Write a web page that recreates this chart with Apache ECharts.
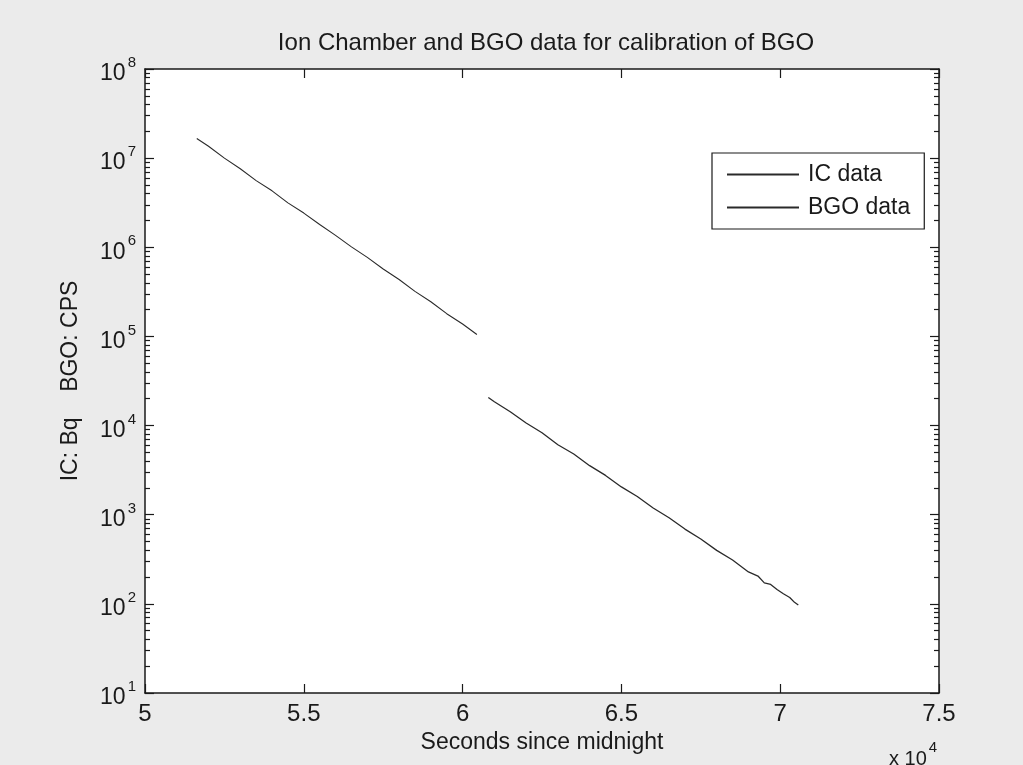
<!DOCTYPE html>
<html>
<head>
<meta charset="utf-8">
<script src="https://cdn.jsdelivr.net/npm/echarts@6/dist/echarts.min.js"></script>
<style>
  html, body { margin: 0; padding: 0; background: #ebebeb; }
  #main { width: 1023px; height: 765px; }
</style>
</head>
<body>
<div id="main"></div>
<script>
  // seconds since midnight
  const icTime = [51630, 52000, 52500, 53000, 53500, 54000, 54500, 55000, 55500, 56000,
    56500, 57000, 57500, 58000, 58500, 59000, 59500, 60000, 60450];
  const icValue = [1.66e7, 1.36e7, 1.0e7, 7.6e6, 5.6e6, 4.3e6, 3.15e6, 2.42e6, 1.8e6, 1.36e6,
    1.01e6, 7.7e5, 5.7e5, 4.35e5, 3.2e5, 2.45e5, 1.8e5, 1.38e5, 1.05e5];

  const bgoTime = [60810, 61000, 61500, 62000, 62500, 63000, 63500, 64000, 64500, 65000,
    65500, 66000, 66500, 67000, 67500, 68000, 68500, 69000, 69300, 69500, 69700, 69900,
    70100, 70300, 70450, 70570];
  const bgoValue = [2.07e4, 1.85e4, 1.43e4, 1.07e4, 8.3e3, 6.1e3, 4.8e3, 3.55e3, 2.76e3, 2.05e3,
    1.6e3, 1.19e3, 925, 690, 535, 398, 310, 228, 205, 172, 165, 145, 130, 118, 104, 97];

  const xTicks = [50000, 55000, 60000, 65000, 70000, 75000];
  const yMajor = [1e1, 1e2, 1e3, 1e4, 1e5, 1e6, 1e7, 1e8];
  const yMinor = [];
  yMajor.slice(0, -1).forEach(d => {
    for (let k = 2; k <= 9; k++) yMinor.push(d * k);
  });

  const font = 'Liberation Sans, Arial, sans-serif';
  const ink = '#1a1a1a';

  const chart = echarts.init(document.getElementById('main'));

  const pair = (a, b) => a.map((v, i) => [v, b[i]]);

  const baseLog = {
    type: 'log',
    logBase: 10,
    min: 10,
    max: 1e8,
    splitLine: { show: false },
    axisLine: { show: true, lineStyle: { color: ink, width: 1.5 } },
    axisLabel: { show: false },
  };

  const minorLog = Object.assign({}, baseLog, {
    axisLine: { show: false },
    axisTick: { show: true, inside: true, length: 5, customValues: yMinor,
      lineStyle: { color: ink, width: 1.2 } },
  });

  const option = {
    backgroundColor: '#ebebeb',
    animation: false,
    title: [
      {
        text: 'Ion Chamber and BGO data for calibration of BGO',
        left: 541, top: 26, textAlign: 'center',
        textStyle: { fontFamily: font, fontSize: 24, fontWeight: 'normal', color: ink },
      },
      {
        text: '{a|x 10}{b|4}',
        left: 884, top: 732,
        textStyle: {
          fontWeight: 'normal',
          rich: {
            a: { fontFamily: font, fontSize: 20, fontWeight: 'normal', color: ink, padding: [12, 0, 0, 0] },
            b: { fontFamily: font, fontSize: 15, fontWeight: 'normal', color: ink, padding: [0, 0, 10, 2] },
          },
        },
      },
    ],
    legend: {
      orient: 'vertical',
      left: 712, top: 153,
      padding: [10, 14, 10, 14],
      itemGap: 10,
      itemWidth: 72,
      itemHeight: 14,
      backgroundColor: '#fff',
      borderColor: ink,
      borderWidth: 1.2,
      borderRadius: 0,
      itemStyle: { opacity: 0 },
      textStyle: { fontFamily: font, fontSize: 23, color: ink, padding: [0, 0, 0, 4] },
      data: ['IC data', 'BGO data'],
    },
    grid: {
      left: 145, right: 84, top: 69, bottom: 72,
      show: true, backgroundColor: '#fff', borderWidth: 0,
    },
    xAxis: [
      {
        type: 'value', position: 'bottom',
        min: 50000, max: 75000, interval: 5000,
        name: 'Seconds since midnight', nameLocation: 'middle', nameGap: 38,
        nameTextStyle: { fontFamily: font, fontSize: 23, color: ink },
        splitLine: { show: false },
        axisLine: { onZero: false, lineStyle: { color: ink, width: 1.5 } },
        axisTick: { inside: true, length: 9, customValues: xTicks, lineStyle: { color: ink, width: 1.2 } },
        axisLabel: {
          customValues: xTicks,
          margin: 9,
          fontFamily: font, fontSize: 24, color: ink,
          formatter: v => String(v / 10000),
        },
      },
      {
        type: 'value', position: 'top',
        min: 50000, max: 75000, interval: 5000,
        splitLine: { show: false },
        axisLine: { onZero: false, lineStyle: { color: ink, width: 1.5 } },
        axisTick: { inside: true, length: 9, customValues: xTicks, lineStyle: { color: ink, width: 1.2 } },
        axisLabel: { show: false },
      },
    ],
    yAxis: [
      Object.assign({}, baseLog, {
        position: 'left',
        name: 'IC: Bq    BGO: CPS', nameLocation: 'middle', nameGap: 63, nameRotate: 90,
        nameTextStyle: { fontFamily: font, fontSize: 23, color: ink },
        axisTick: { show: true, inside: true, length: 9, customValues: yMajor,
          lineStyle: { color: ink, width: 1.2 } },
        axisLabel: {
          show: true,
          customValues: yMajor,
          margin: 9,
          formatter: v => '{b|10}{s|' + Math.round(Math.log10(v)) + '}',
          rich: {
            b: { fontFamily: font, fontSize: 23, color: ink, padding: [10, 0, 0, 0] },
            s: { fontFamily: font, fontSize: 15, color: ink, padding: [0, 0, 12, 2] },
          },
        },
      }),
      Object.assign({}, baseLog, {
        position: 'right',
        axisTick: { show: true, inside: true, length: 9, customValues: yMajor,
          lineStyle: { color: ink, width: 1.2 } },
      }),
      Object.assign({}, minorLog, { position: 'left' }),
      Object.assign({}, minorLog, { position: 'right' }),
    ],
    series: [
      {
        name: 'IC data', type: 'line', xAxisIndex: 0, yAxisIndex: 0,
        symbol: 'none', data: pair(icTime, icValue),
        lineStyle: { color: '#2a2a2a', width: 1.1 }, itemStyle: { color: '#2a2a2a' },
      },
      {
        name: 'BGO data', type: 'line', xAxisIndex: 0, yAxisIndex: 0,
        symbol: 'none', data: pair(bgoTime, bgoValue),
        lineStyle: { color: '#2a2a2a', width: 1.3 }, itemStyle: { color: '#2a2a2a' },
      },
    ],
  };

  chart.setOption(option);
</script>
</body>
</html>
